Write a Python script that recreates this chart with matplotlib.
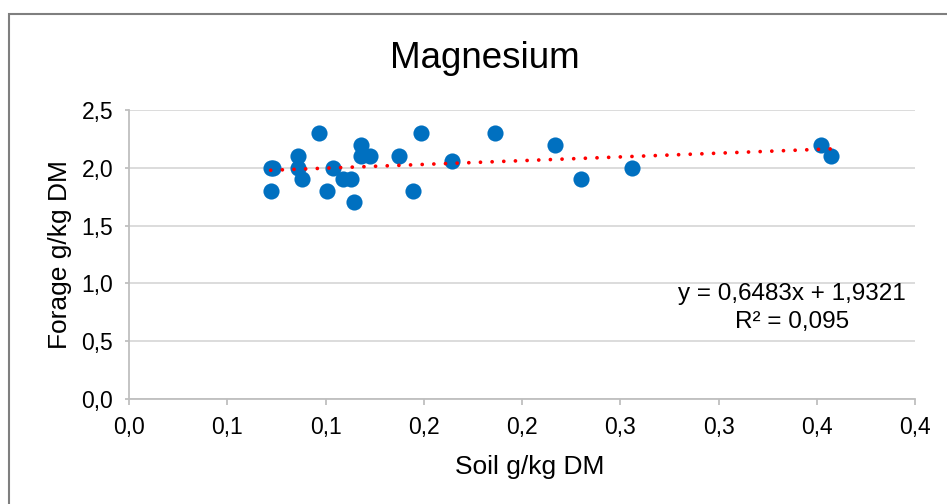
import numpy as np
import matplotlib
matplotlib.use("Agg")
import matplotlib.pyplot as plt
from matplotlib.patches import Rectangle
from matplotlib.ticker import FuncFormatter

plt.rcParams['font.family'] = ['Liberation Sans', 'DejaVu Sans']

# data
soil = [0.0721, 0.0733, 0.0721, 0.0859, 0.0859, 0.0879, 0.0968, 0.1009, 0.1040,
        0.1091, 0.1130, 0.1147, 0.1179, 0.1179, 0.1226, 0.1376, 0.1444, 0.1484,
        0.1642, 0.1863, 0.2169, 0.2300, 0.2558, 0.3520, 0.3571]
forage = [2.0, 2.0, 1.8, 2.1, 2.0, 1.9, 2.3, 1.8, 2.0,
          1.9, 1.9, 1.7, 2.2, 2.1, 2.1, 2.1, 1.8, 2.3,
          2.06, 2.3, 2.2, 1.9, 2.0, 2.2, 2.1]

# trend line as printed on the chart
slope = 0.6483
intercept = 1.9321
r2 = 0.095

xticks = np.arange(0, 0.4001, 0.05)
yticks = np.arange(0, 2.501, 0.5)

W, H = 947, 504
fig = plt.figure(figsize=(W / 100, H / 100), dpi=100)
ax = fig.add_axes([129 / W, 1 - 399 / H, (915 - 129) / W, (399 - 110) / H])

ax.scatter(soil, forage, s=135, color='#0070C0', linewidths=0, zorder=3)

xs = np.array([min(soil), max(soil)])
ax.plot(xs, slope * xs + intercept, color='#FF0000', lw=2.7,
        linestyle=(0, (0.01, 3.1)), dash_capstyle='round', zorder=4)

ax.set_xlim(0, 0.4)
ax.set_ylim(0, 2.5)
ax.set_xticks(xticks)
ax.set_yticks(yticks)
# Excel rounds half up, so 0,05 -> 0,1 and 0,25 -> 0,3
comma = FuncFormatter(lambda v, p: f"{v + 1e-9:.1f}".replace('.', ','))
ax.xaxis.set_major_formatter(comma)
ax.yaxis.set_major_formatter(comma)

ax.grid(axis='y', color='#D9D9D9', lw=1.3)
ax.set_axisbelow(True)
for side in ['top', 'right']:
    ax.spines[side].set_visible(False)
for side in ['left', 'bottom']:
    ax.spines[side].set_color('#BFBFBF')
    ax.spines[side].set_linewidth(1.3)
ax.tick_params(axis='x', length=4.5, width=1.3, color='#BFBFBF', pad=8,
               labelsize=16.5, labelcolor='black')
ax.tick_params(axis='y', length=3, width=1.3, color='#BFBFBF', pad=8.5,
               labelsize=16.5, labelcolor='black')

fig.text(485 / W, 1 - 58 / H, "Magnesium", ha='center', va='center', fontsize=26.5)
fig.text(530 / W, 1 - 467 / H, "Soil g/kg DM", ha='center', va='center', fontsize=19)
fig.text(60 / W, 1 - 255 / H, "Forage g/kg DM", ha='center', va='center',
         rotation=90, fontsize=19)

eq = f"y = {slope:.4f}x + {intercept:.4f}".replace('.', ',')
fig.text(792 / W, 1 - 294 / H, eq, ha='center', va='center', fontsize=17.5)
fig.text(792 / W, 1 - 322 / H, f"R² = {r2:.3f}".replace('.', ','),
         ha='center', va='center', fontsize=17.5)

# chart border (cut off at right and bottom)
fig.add_artist(Rectangle((9 / W, -0.1), 1.2, 1.1 - 14 / H, transform=fig.transFigure,
                         fill=False, edgecolor='#7F7F7F', lw=1.5))

fig.savefig("out.png", dpi=100)
